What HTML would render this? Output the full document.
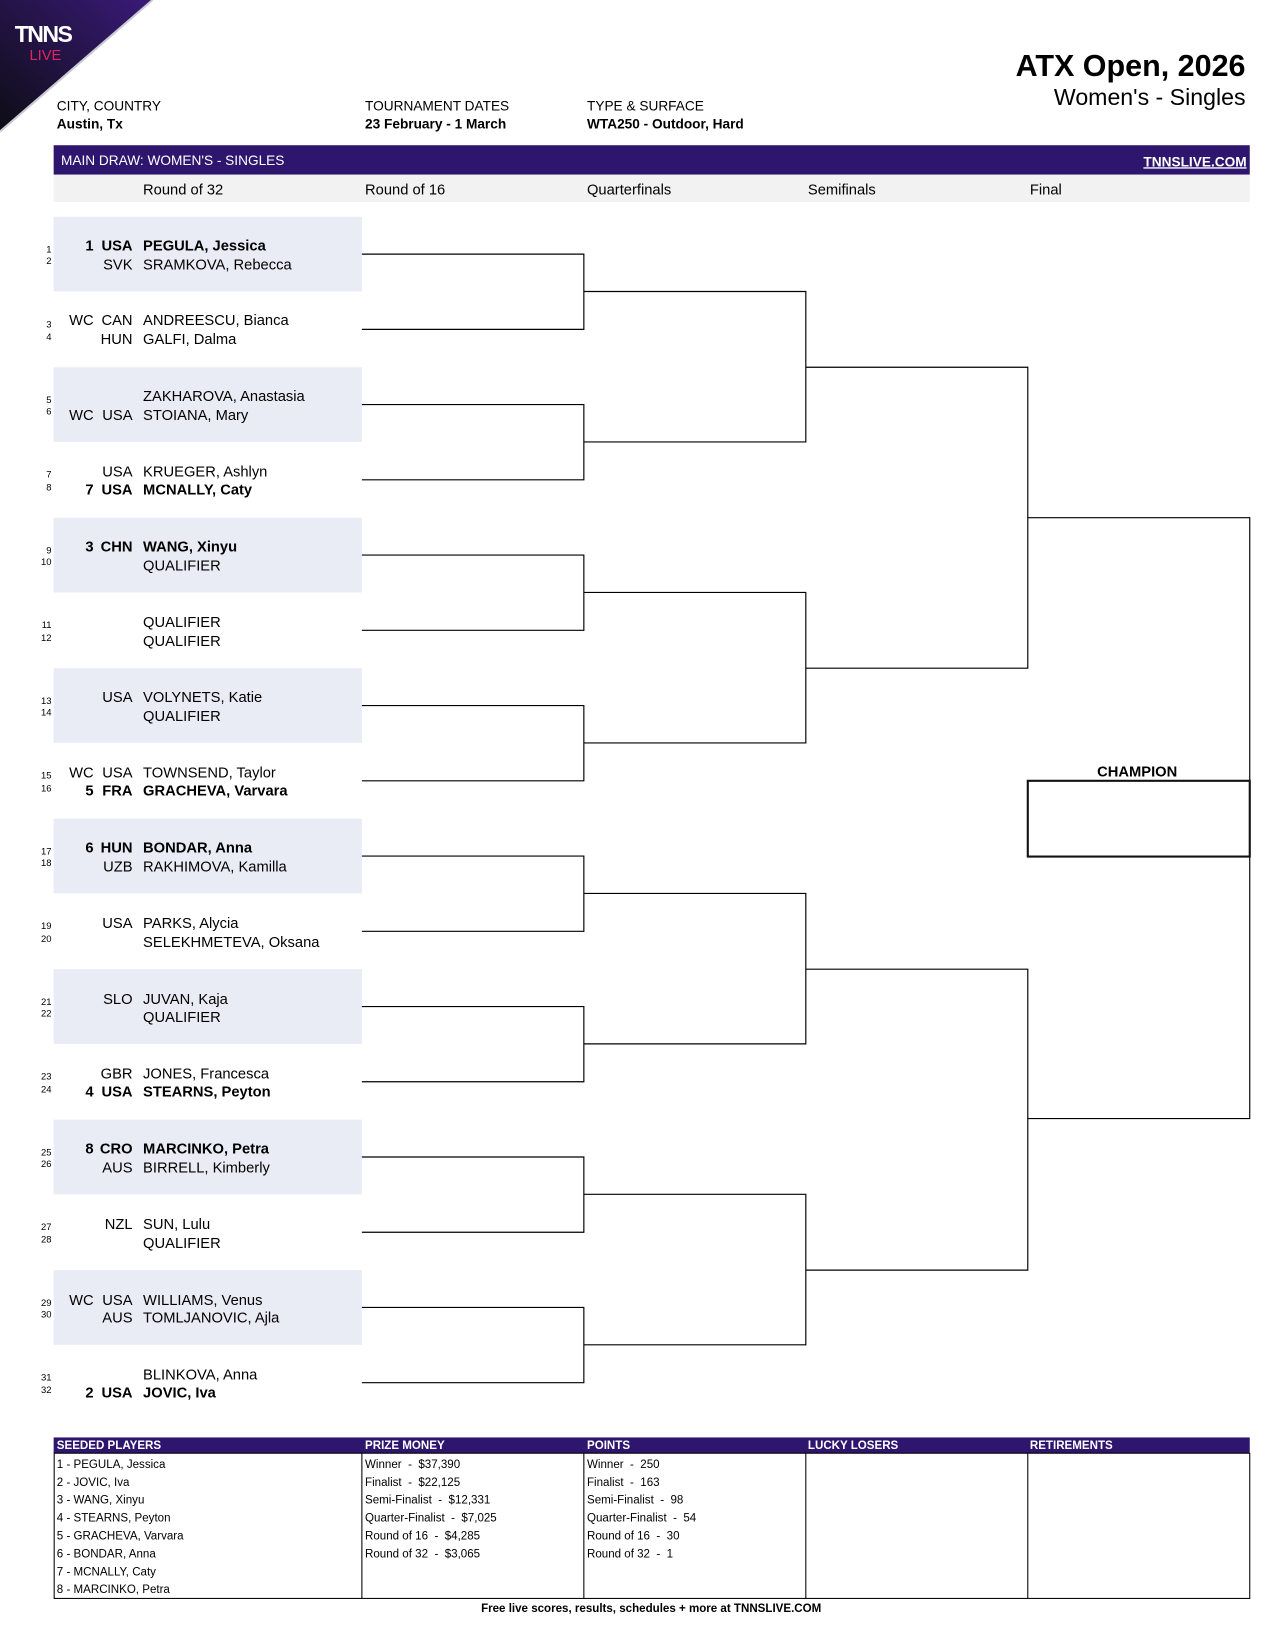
<!DOCTYPE html>
<html><head><meta charset="utf-8"><style>
html,body{margin:0;padding:0;background:#fff}
svg{display:block}
text{font-family:"Liberation Sans",Arial,sans-serif;fill:#000;white-space:pre}
.b{font-weight:bold}
</style></head><body>
<svg width="1275" height="1650" viewBox="0 0 1212 1568" preserveAspectRatio="none" xmlns="http://www.w3.org/2000/svg" xml:space="preserve">
<defs><linearGradient id="g" x1="0" y1="1" x2="1" y2="0"><stop offset="0" stop-color="#0d0d14"/><stop offset="1" stop-color="#3a1a78"/></linearGradient></defs>
<polygon points="0,0 145,0 0,125" fill="url(#g)"/>
<line x1="145" y1="0" x2="0" y2="125" stroke="#c9c9d6" stroke-width="2"/>
<text x="14" y="40" font-size="22" class="b" style="fill:#fff;letter-spacing:-1.5px">TNNS</text>
<text x="28" y="57" font-size="14" style="fill:#e0245e">LIVE</text>

<text x="1184" y="72" font-size="29" class="b" text-anchor="end">ATX Open, 2026</text>
<text x="1184" y="100" font-size="22" text-anchor="end">Women's - Singles</text>
<g font-size="13">
<text x="54" y="105">CITY, COUNTRY</text><text x="54" y="122" class="b">Austin, Tx</text>
<text x="347" y="105">TOURNAMENT DATES</text><text x="347" y="122" class="b">23 February - 1 March</text>
<text x="558" y="105">TYPE &amp; SURFACE</text><text x="558" y="122" class="b">WTA250 - Outdoor, Hard</text>
</g>
<rect x="51" y="138" width="1137" height="28" fill="#2e166e"/>
<text x="58" y="157" font-size="13" style="fill:#fff">MAIN DRAW: WOMEN'S - SINGLES</text>
<text x="1185" y="158" font-size="13" class="b" text-anchor="end" style="fill:#fff;text-decoration:underline">TNNSLIVE.COM</text>
<rect x="51" y="166" width="1137" height="26" fill="#f2f2f2"/>
<g font-size="14"><text x="136" y="185">Round of 32</text><text x="347" y="185">Round of 16</text><text x="558" y="185">Quarterfinals</text><text x="768" y="185">Semifinals</text><text x="979" y="185">Final</text></g>

<g fill="#e9ecf5">
<rect x="51" y="206" width="293" height="71"/><rect x="51" y="349" width="293" height="71"/><rect x="51" y="492" width="293" height="71"/><rect x="51" y="635" width="293" height="71"/>
<rect x="51" y="778" width="293" height="71"/><rect x="51" y="921" width="293" height="71"/><rect x="51" y="1064" width="293" height="71"/><rect x="51" y="1207" width="293" height="71"/>
</g>

<g font-size="14">
<text x="89" y="238" text-anchor="end" class="b">1</text><text x="126" y="238" text-anchor="end" class="b">USA</text><text x="136" y="238" class="b">PEGULA, Jessica</text>
<text x="126" y="256" text-anchor="end">SVK</text><text x="136" y="256">SRAMKOVA, Rebecca</text>
<text x="89" y="309" text-anchor="end">WC</text><text x="126" y="309" text-anchor="end">CAN</text><text x="136" y="309">ANDREESCU, Bianca</text>
<text x="126" y="327" text-anchor="end">HUN</text><text x="136" y="327">GALFI, Dalma</text>
<text x="136" y="381">ZAKHAROVA, Anastasia</text>
<text x="89" y="399" text-anchor="end">WC</text><text x="126" y="399" text-anchor="end">USA</text><text x="136" y="399">STOIANA, Mary</text>
<text x="126" y="453" text-anchor="end">USA</text><text x="136" y="453">KRUEGER, Ashlyn</text>
<text x="89" y="470" text-anchor="end" class="b">7</text><text x="126" y="470" text-anchor="end" class="b">USA</text><text x="136" y="470" class="b">MCNALLY, Caty</text>
<text x="89" y="524" text-anchor="end" class="b">3</text><text x="126" y="524" text-anchor="end" class="b">CHN</text><text x="136" y="524" class="b">WANG, Xinyu</text>
<text x="136" y="542">QUALIFIER</text>
<text x="136" y="596">QUALIFIER</text><text x="136" y="614">QUALIFIER</text>
<text x="126" y="667" text-anchor="end">USA</text><text x="136" y="667">VOLYNETS, Katie</text>
<text x="136" y="685">QUALIFIER</text>
<text x="89" y="739" text-anchor="end">WC</text><text x="126" y="739" text-anchor="end">USA</text><text x="136" y="739">TOWNSEND, Taylor</text>
<text x="89" y="756" text-anchor="end" class="b">5</text><text x="126" y="756" text-anchor="end" class="b">FRA</text><text x="136" y="756" class="b">GRACHEVA, Varvara</text>
<text x="89" y="810" text-anchor="end" class="b">6</text><text x="126" y="810" text-anchor="end" class="b">HUN</text><text x="136" y="810" class="b">BONDAR, Anna</text>
<text x="126" y="828" text-anchor="end">UZB</text><text x="136" y="828">RAKHIMOVA, Kamilla</text>
<text x="126" y="882" text-anchor="end">USA</text><text x="136" y="882">PARKS, Alycia</text>
<text x="136" y="900">SELEKHMETEVA, Oksana</text>
<text x="126" y="954" text-anchor="end">SLO</text><text x="136" y="954">JUVAN, Kaja</text>
<text x="136" y="971">QUALIFIER</text>
<text x="126" y="1025" text-anchor="end">GBR</text><text x="136" y="1025">JONES, Francesca</text>
<text x="89" y="1042" text-anchor="end" class="b">4</text><text x="126" y="1042" text-anchor="end" class="b">USA</text><text x="136" y="1042" class="b">STEARNS, Peyton</text>
<text x="89" y="1096" text-anchor="end" class="b">8</text><text x="126" y="1096" text-anchor="end" class="b">CRO</text><text x="136" y="1096" class="b">MARCINKO, Petra</text>
<text x="126" y="1114" text-anchor="end">AUS</text><text x="136" y="1114">BIRRELL, Kimberly</text>
<text x="126" y="1168" text-anchor="end">NZL</text><text x="136" y="1168">SUN, Lulu</text>
<text x="136" y="1186">QUALIFIER</text>
<text x="89" y="1240" text-anchor="end">WC</text><text x="126" y="1240" text-anchor="end">USA</text><text x="136" y="1240">WILLIAMS, Venus</text>
<text x="126" y="1257" text-anchor="end">AUS</text><text x="136" y="1257">TOMLJANOVIC, Ajla</text>
<text x="136" y="1311">BLINKOVA, Anna</text>
<text x="89" y="1328" text-anchor="end" class="b">2</text><text x="126" y="1328" text-anchor="end" class="b">USA</text><text x="136" y="1328" class="b">JOVIC, Iva</text>
</g>
<g font-size="9" text-anchor="end">
<text x="49" y="240">1</text><text x="49" y="251">2</text><text x="49" y="311">3</text><text x="49" y="323">4</text>
<text x="49" y="383">5</text><text x="49" y="394">6</text><text x="49" y="454">7</text><text x="49" y="466">8</text>
<text x="49" y="526">9</text><text x="49" y="537">10</text><text x="49" y="597">11</text><text x="49" y="609">12</text>
<text x="49" y="669">13</text><text x="49" y="680">14</text><text x="49" y="740">15</text><text x="49" y="752">16</text>
<text x="49" y="812">17</text><text x="49" y="823">18</text><text x="49" y="883">19</text><text x="49" y="895">20</text>
<text x="49" y="955">21</text><text x="49" y="966">22</text><text x="49" y="1026">23</text><text x="49" y="1038">24</text>
<text x="49" y="1098">25</text><text x="49" y="1109">26</text><text x="49" y="1169">27</text><text x="49" y="1181">28</text>
<text x="49" y="1241">29</text><text x="49" y="1252">30</text><text x="49" y="1312">31</text><text x="49" y="1324">32</text>
</g>

<g fill="none" stroke="#000" stroke-width="1.1">
<path d="M344,241.5H555V313H344 M344,384.5H555V456H344 M344,527.5H555V599H344 M344,670.5H555V742H344 M344,813.5H555V885H344 M344,956.5H555V1028H344 M344,1099.5H555V1171H344 M344,1242.5H555V1314H344"/>
<path d="M555,277H766V420H555 M555,563H766V706H555 M555,849H766V992H555 M555,1135H766V1278H555"/>
<path d="M766,349H977V635H766 M766,921H977V1207H766"/>
<path d="M977,492H1188V1063H977"/>
</g>
<text x="1081" y="738" font-size="14" class="b" text-anchor="middle">CHAMPION</text>
<rect x="977" y="742" width="211" height="72" fill="#fff" stroke="#111" stroke-width="2"/>

<rect x="51" y="1366" width="1137" height="15" fill="#2e166e"/>
<g font-size="11" class="b">
<text x="54" y="1377" style="fill:#fff">SEEDED PLAYERS</text><text x="347" y="1377" style="fill:#fff">PRIZE MONEY</text><text x="558" y="1377" style="fill:#fff">POINTS</text><text x="768" y="1377" style="fill:#fff">LUCKY LOSERS</text><text x="979" y="1377" style="fill:#fff">RETIREMENTS</text>
</g>
<g fill="none" stroke="#000" stroke-width="1"><rect x="51.5" y="1381" width="1136.5" height="138"/><path d="M344,1381V1519M555,1381V1519M766,1381V1519M977,1381V1519"/></g>
<g font-size="11">
<text x="54" y="1395">1 - PEGULA, Jessica</text><text x="54" y="1412">2 - JOVIC, Iva</text><text x="54" y="1429">3 - WANG, Xinyu</text><text x="54" y="1446">4 - STEARNS, Peyton</text><text x="54" y="1463">5 - GRACHEVA, Varvara</text><text x="54" y="1480">6 - BONDAR, Anna</text><text x="54" y="1497">7 - MCNALLY, Caty</text><text x="54" y="1514">8 - MARCINKO, Petra</text>
<text x="347" y="1395">Winner  -  $37,390</text><text x="347" y="1412">Finalist  -  $22,125</text><text x="347" y="1429">Semi-Finalist  -  $12,331</text><text x="347" y="1446">Quarter-Finalist  -  $7,025</text><text x="347" y="1463">Round of 16  -  $4,285</text><text x="347" y="1480">Round of 32  -  $3,065</text>
<text x="558" y="1395">Winner  -  250</text><text x="558" y="1412">Finalist  -  163</text><text x="558" y="1429">Semi-Finalist  -  98</text><text x="558" y="1446">Quarter-Finalist  -  54</text><text x="558" y="1463">Round of 16  -  30</text><text x="558" y="1480">Round of 32  -  1</text>
<text x="619" y="1532" class="b" text-anchor="middle">Free live scores, results, schedules + more at TNNSLIVE.COM</text>
</g>
</svg>
</body></html>
